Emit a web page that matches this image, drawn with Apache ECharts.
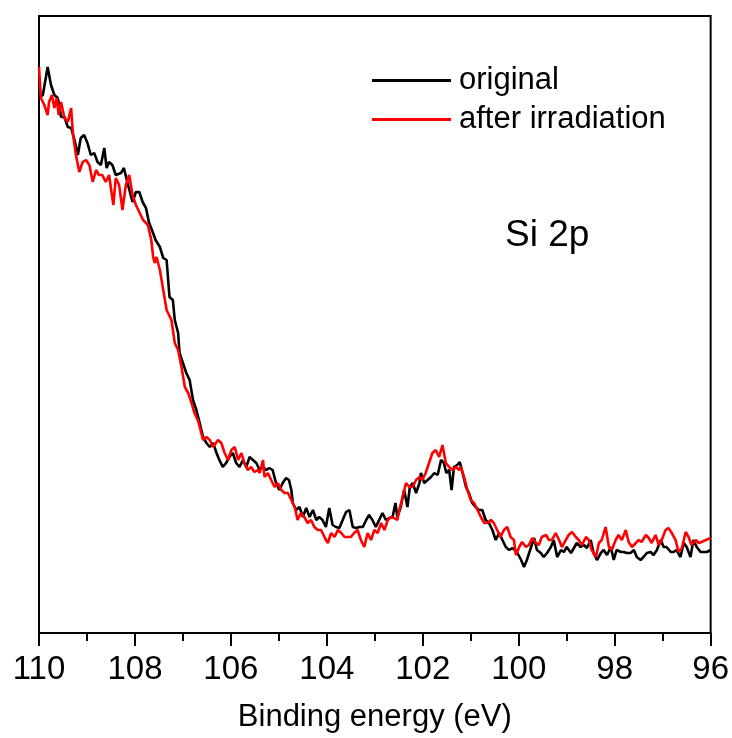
<!DOCTYPE html>
<html>
<head>
<meta charset="utf-8">
<script src="https://cdn.jsdelivr.net/npm/echarts@6/dist/echarts.min.js"></script>
<style>html,body{margin:0;padding:0;background:#fff}#c{width:732px;height:738px}</style>
</head>
<body>
<div id="c"></div>
<script>
// Binding energy (eV) and intensity (a.u.) for each spectrum
const origE = [110.00,109.92,109.82,109.75,109.68,109.61,109.58,109.54,109.47,109.40,109.33,109.27,109.19,109.13,109.06,108.99,108.92,108.85,108.78,108.71,108.64,108.59,108.54,108.47,108.40,108.29,108.23,108.16,108.05,107.98,107.91,107.84,107.77,107.71,107.63,107.57,107.48,107.41,107.34,107.28,107.21,107.17,107.10,107.07,107.00,106.93,106.86,106.79,106.72,106.65,106.58,106.51,106.44,106.37,106.30,106.24,106.17,106.10,106.03,105.96,105.89,105.82,105.75,105.68,105.61,105.54,105.47,105.40,105.33,105.26,105.20,105.13,105.06,104.99,104.92,104.85,104.79,104.74,104.71,104.64,104.57,104.50,104.43,104.36,104.29,104.22,104.16,104.09,104.02,103.95,103.88,103.81,103.74,103.67,103.60,103.53,103.46,103.39,103.32,103.25,103.18,103.12,103.05,102.98,102.91,102.84,102.77,102.70,102.63,102.57,102.53,102.46,102.39,102.32,102.27,102.21,102.14,102.07,102.04,101.97,101.90,101.83,101.76,101.69,101.62,101.56,101.51,101.45,101.40,101.35,101.28,101.23,101.17,101.10,101.04,100.97,100.90,100.83,100.76,100.69,100.62,100.55,100.48,100.41,100.34,100.27,100.20,100.13,100.04,99.95,99.89,99.83,99.75,99.68,99.62,99.54,99.48,99.41,99.33,99.27,99.20,99.12,99.06,99.00,98.91,98.85,98.79,98.71,98.64,98.58,98.50,98.44,98.37,98.29,98.23,98.16,98.08,98.02,97.96,97.87,97.81,97.75,97.67,97.60,97.54,97.46,97.40,97.33,97.25,97.19,97.12,97.04,96.98,96.92,96.83,96.77,96.71,96.63,96.56,96.50,96.42,96.36,96.29,96.21,96.15,96.08,96.00];
const origI = [535,538,566,548,538,535,528,516,516,506,505,495,478,495,498,490,478,480,471,468,485,465,471,468,458,460,465,451,431,441,441,431,425,411,401,393,386,375,373,336,333,313,300,280,270,260,253,233,223,210,196,190,186,190,180,173,166,170,176,180,170,166,173,166,176,173,170,163,166,163,165,163,150,143,150,155,153,143,130,123,126,116,125,116,123,113,116,113,106,125,108,106,105,113,121,123,106,105,106,106,113,118,113,106,113,120,113,115,116,130,116,126,143,126,146,150,140,150,160,150,153,156,160,158,173,170,160,163,143,166,168,171,160,146,140,130,126,123,123,113,110,103,93,100,93,86,83,85,81,73,66,73,85,95,83,80,76,80,86,93,76,83,81,86,80,85,90,86,88,85,93,80,73,80,83,78,86,73,83,81,81,80,80,83,76,73,76,80,81,78,83,93,86,86,81,81,83,76,90,86,76,93,86,81,81,81,83];
const irrE = [110.00,109.96,109.89,109.82,109.79,109.73,109.68,109.63,109.59,109.54,109.47,109.40,109.33,109.29,109.23,109.16,109.09,109.02,108.95,108.88,108.81,108.75,108.68,108.61,108.54,108.45,108.40,108.33,108.26,108.19,108.12,108.05,107.98,107.91,107.83,107.73,107.66,107.62,107.59,107.55,107.48,107.41,107.34,107.24,107.17,107.10,107.03,106.96,106.89,106.82,106.76,106.69,106.65,106.58,106.51,106.44,106.37,106.27,106.20,106.13,106.06,105.99,105.92,105.85,105.78,105.72,105.65,105.58,105.51,105.44,105.40,105.33,105.30,105.23,105.16,105.09,105.02,104.95,104.88,104.81,104.74,104.67,104.61,104.54,104.47,104.40,104.33,104.26,104.19,104.12,104.05,103.98,103.91,103.84,103.77,103.70,103.63,103.57,103.50,103.43,103.36,103.29,103.22,103.15,103.08,103.01,102.94,102.87,102.80,102.73,102.66,102.60,102.53,102.49,102.42,102.35,102.28,102.21,102.14,102.07,102.01,101.94,101.87,101.80,101.73,101.66,101.59,101.52,101.45,101.38,101.31,101.24,101.21,101.14,101.07,101.00,100.93,100.86,100.79,100.72,100.65,100.58,100.52,100.45,100.38,100.31,100.24,100.17,100.10,100.06,99.99,99.93,99.85,99.79,99.72,99.64,99.58,99.52,99.43,99.37,99.31,99.23,99.16,99.10,99.02,98.96,98.89,98.81,98.75,98.68,98.60,98.54,98.48,98.39,98.33,98.27,98.19,98.12,98.06,97.98,97.92,97.85,97.77,97.71,97.64,97.56,97.50,97.44,97.35,97.29,97.23,97.15,97.08,97.02,96.94,96.88,96.81,96.73,96.67,96.60,96.52,96.46,96.40,96.31,96.25,96.19,96.10,96.00];
const irrI = [566,535,528,518,531,538,525,535,518,531,515,511,525,498,478,461,471,473,468,451,463,458,458,451,458,428,455,448,423,448,458,438,428,421,413,408,393,376,370,376,363,343,323,313,290,283,266,246,240,230,220,213,206,193,196,193,186,193,190,180,173,183,186,173,180,170,163,166,161,163,160,173,156,160,153,146,150,143,140,140,133,126,113,120,116,110,113,106,103,103,96,90,100,96,103,100,96,96,96,100,103,93,86,100,93,103,100,110,103,113,116,115,113,123,136,150,146,146,153,156,153,160,170,180,183,176,188,170,166,163,166,163,166,156,143,133,130,123,116,110,110,113,110,103,96,103,106,96,93,78,86,91,86,88,95,90,88,96,98,93,93,100,93,86,93,98,101,96,93,88,96,93,83,76,90,93,106,86,83,93,98,93,103,91,86,90,93,91,98,95,90,98,88,93,103,105,100,93,81,85,101,96,88,93,90,91,93,95];
const xTicks = [110,108,106,104,102,100,98,96];
const seriesNames = ['original','after irradiation'];

const pair = (E, I) => E.map((e, i) => [e, I[i]]);
const chart = echarts.init(document.getElementById('c'), null, {renderer: 'canvas'});
const FONT = '"Liberation Sans", Arial, sans-serif';
chart.setOption({
  animation: false,
  backgroundColor: '#fff',
  grid: {left: 39, right: 20, top: 16, bottom: 105, show: true, borderColor: '#000', borderWidth: 2, backgroundColor: 'transparent'},
  legend: {
    orient: 'vertical', left: 372, top: 65, padding: 0, itemWidth: 79, itemHeight: 14, itemGap: 8,
    data: seriesNames,
    textStyle: {fontFamily: FONT, fontSize: 31, color: '#000', padding: [0, 0, 0, 3]},
    icon: 'path://M0,0 L100,0 L100,4 L0,4 Z'
  },
  graphic: [{type: 'text', left: 505, top: 217, style: {text: 'Si 2p', fontFamily: FONT, fontSize: 37, fill: '#000'}}],
  xAxis: {
    type: 'value', min: 96, max: 110, interval: 2, inverse: true,
    name: 'Binding energy (eV)', nameLocation: 'middle', nameGap: 69,
    nameTextStyle: {fontFamily: FONT, fontSize: 31, color: '#000'},
    axisLine: {show: true, lineStyle: {color: '#000', width: 2}},
    axisTick: {show: true, inside: false, length: 13, lineStyle: {color: '#000', width: 2}},
    minorTick: {show: true, splitNumber: 2, length: 8, lineStyle: {color: '#000', width: 2}},
    axisLabel: {fontFamily: FONT, fontSize: 33, color: '#000', margin: 20,
      formatter: v => xTicks.includes(v) ? String(v) : ''},
    splitLine: {show: false}
  },
  yAxis: {
    type: 'value', min: 0, max: 617,
    axisLine: {show: true, lineStyle: {color: '#000', width: 2}},
    axisTick: {show: false}, axisLabel: {show: false}, splitLine: {show: false}
  },
  series: [
    {name: seriesNames[0], type: 'line', data: pair(origE, origI), symbol: 'none', lineStyle: {color: '#000', width: 2.6}, itemStyle: {color: '#000'}},
    {name: seriesNames[1], type: 'line', data: pair(irrE, irrI), symbol: 'none', lineStyle: {color: '#ff0000', width: 2.6}, itemStyle: {color: '#ff0000'}}
  ]
});
</script>
</body>
</html>
